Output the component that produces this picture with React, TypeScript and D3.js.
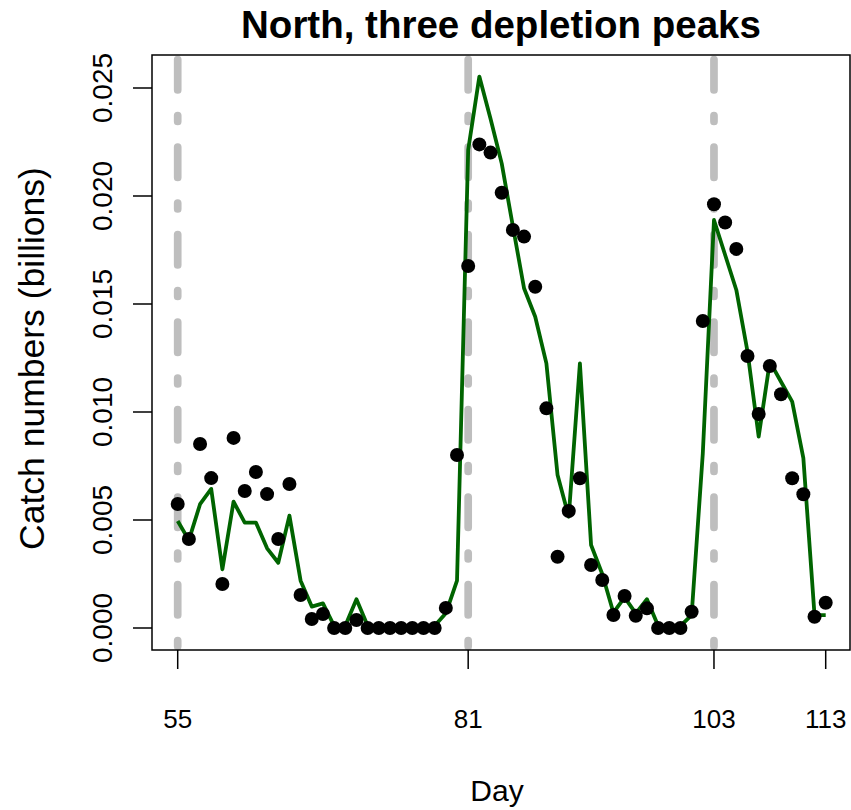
import React from "react";
import * as d3 from "d3";

const days: number[] = [
  55, 56, 57, 58, 59, 60, 61, 62, 63, 64, 65, 66, 67, 68, 69, 70, 71, 72, 73, 74,
  75, 76, 77, 78, 79, 80, 81, 82, 83, 84, 85, 86, 87, 88, 89, 90, 91, 92, 93, 94,
  95, 96, 97, 98, 99, 100, 101, 102, 103, 104, 105, 106, 107, 108, 109, 110, 111, 112, 113,
];

const observedCatch: number[] = [
  0.00574, 0.00412, 0.00852, 0.00694, 0.00204, 0.0088, 0.00634, 0.00722, 0.0062, 0.00412,
  0.00667, 0.00153, 0.00042, 0.00065, 0.0, 0.0, 0.00037, 0.0, 0.0, 0.0,
  0.0, 0.0, 0.0, 0.0, 0.00093, 0.00801, 0.01676, 0.02239, 0.02201, 0.02015,
  0.01843, 0.01812, 0.0158, 0.01017, 0.0033, 0.00542, 0.00693, 0.00292, 0.00222, 0.0006,
  0.00148, 0.00057, 0.00091, 0.0, 0.0, 0.0, 0.00075, 0.01421, 0.01962, 0.01877,
  0.01755, 0.01259, 0.00991, 0.01213, 0.01082, 0.00693, 0.00619, 0.00052, 0.00117,
];

const predictedCatch: number[] = [
  0.00495, 0.00407, 0.00573, 0.00644, 0.00272, 0.00585, 0.00488, 0.00488, 0.00369, 0.00302,
  0.0052, 0.00219, 0.00099, 0.00114, 0.0001, 0.0001, 0.00133, 0.0001, 0.0001, 0.0001,
  0.0001, 0.0001, 0.0001, 0.0001, 0.00068, 0.00219, 0.02213, 0.02553, 0.02358, 0.02151,
  0.0186, 0.01573, 0.01441, 0.01225, 0.00708, 0.00515, 0.01225, 0.00384, 0.0025, 0.00071,
  0.00142, 0.00068, 0.00133, 0.0001, 0.0001, 0.0001, 0.0006, 0.00809, 0.01889, 0.01727,
  0.01565, 0.0128, 0.00886, 0.01233, 0.0114, 0.01048, 0.00786, 0.0006, 0.0006,
];

const peakDays: number[] = [55, 81, 103];
const xTickDays: number[] = [55, 81, 103, 113];
const yTicks: number[] = [0, 0.005, 0.01, 0.015, 0.02, 0.025];

const titleText = "North, three depletion peaks";
const xLabel = "Day";
const yLabel = "Catch numbers (billions)";

const W = 851;
const H = 810;
const box = { left: 152, right: 850, top: 55, bottom: 650 };

export default function App() {
  const x = d3.scaleLinear().domain([55, 113]).range([177.7, 825.7]);
  const y = d3.scaleLinear().domain([0, 0.025]).range([628, 88]);

  const line = d3
    .line<number>()
    .x((_, i) => x(days[i]))
    .y((v) => y(v));

  const font = "'Liberation Sans', Arial, Helvetica, sans-serif";
  const cx = (box.left + box.right) / 2;

  return (
    <svg
      width={W}
      height={H}
      style={{ position: "absolute", left: 0, top: 0, background: "#fff" }}
      fontFamily={font}
    >
      <defs>
        <clipPath id="plotclip">
          <rect x={box.left} y={box.top} width={box.right - box.left} height={box.bottom - box.top} />
        </clipPath>
      </defs>
      <rect x={0} y={0} width={W} height={H} fill="#fff" />

      <g clipPath="url(#plotclip)">
        {peakDays.map((d) => (
          <line
            key={d}
            x1={x(d)}
            x2={x(d)}
            y1={59.5}
            y2={box.bottom + 20}
            stroke="#BEBEBE"
            strokeWidth={7.7}
            strokeLinecap="round"
            strokeDasharray="30.5 25.5 6 25.5"
          />
        ))}
        <path d={line(predictedCatch) || ""} fill="none" stroke="#006400" strokeWidth={3.8} strokeLinejoin="round" />
        {observedCatch.map((v, i) => (
          <circle key={i} cx={x(days[i])} cy={y(v)} r={7} fill="#000" />
        ))}
      </g>

      <rect
        x={box.left}
        y={box.top}
        width={box.right - box.left}
        height={box.bottom - box.top}
        fill="none"
        stroke="#000"
        strokeWidth={1.5}
      />

      {yTicks.map((t) => (
        <g key={t}>
          <line x1={box.left} x2={box.left - 19} y1={y(t)} y2={y(t)} stroke="#000" strokeWidth={1.5} />
          <text
            transform={`translate(112,${y(t)}) rotate(-90)`}
            textAnchor="middle"
            fontSize={28}
            fill="#000"
          >
            {t.toFixed(3)}
          </text>
        </g>
      ))}

      {xTickDays.map((t) => (
        <g key={t}>
          <line x1={x(t)} x2={x(t)} y1={box.bottom} y2={box.bottom + 19} stroke="#000" strokeWidth={1.5} />
          <text x={x(t)} y={728} textAnchor="middle" fontSize={26} fill="#000">
            {t}
          </text>
        </g>
      ))}

      <text x={cx} y={38} textAnchor="middle" fontSize={38.5} fontWeight="bold" fill="#000">
        {titleText}
      </text>
      <text x={cx - 4} y={801} textAnchor="middle" fontSize={30} fill="#000">
        {xLabel}
      </text>
      <text
        transform={`translate(44,${(box.top + box.bottom) / 2 + 6}) rotate(-90)`}
        textAnchor="middle"
        fontSize={35.5}
        fill="#000"
      >
        {yLabel}
      </text>
    </svg>
  );
}
